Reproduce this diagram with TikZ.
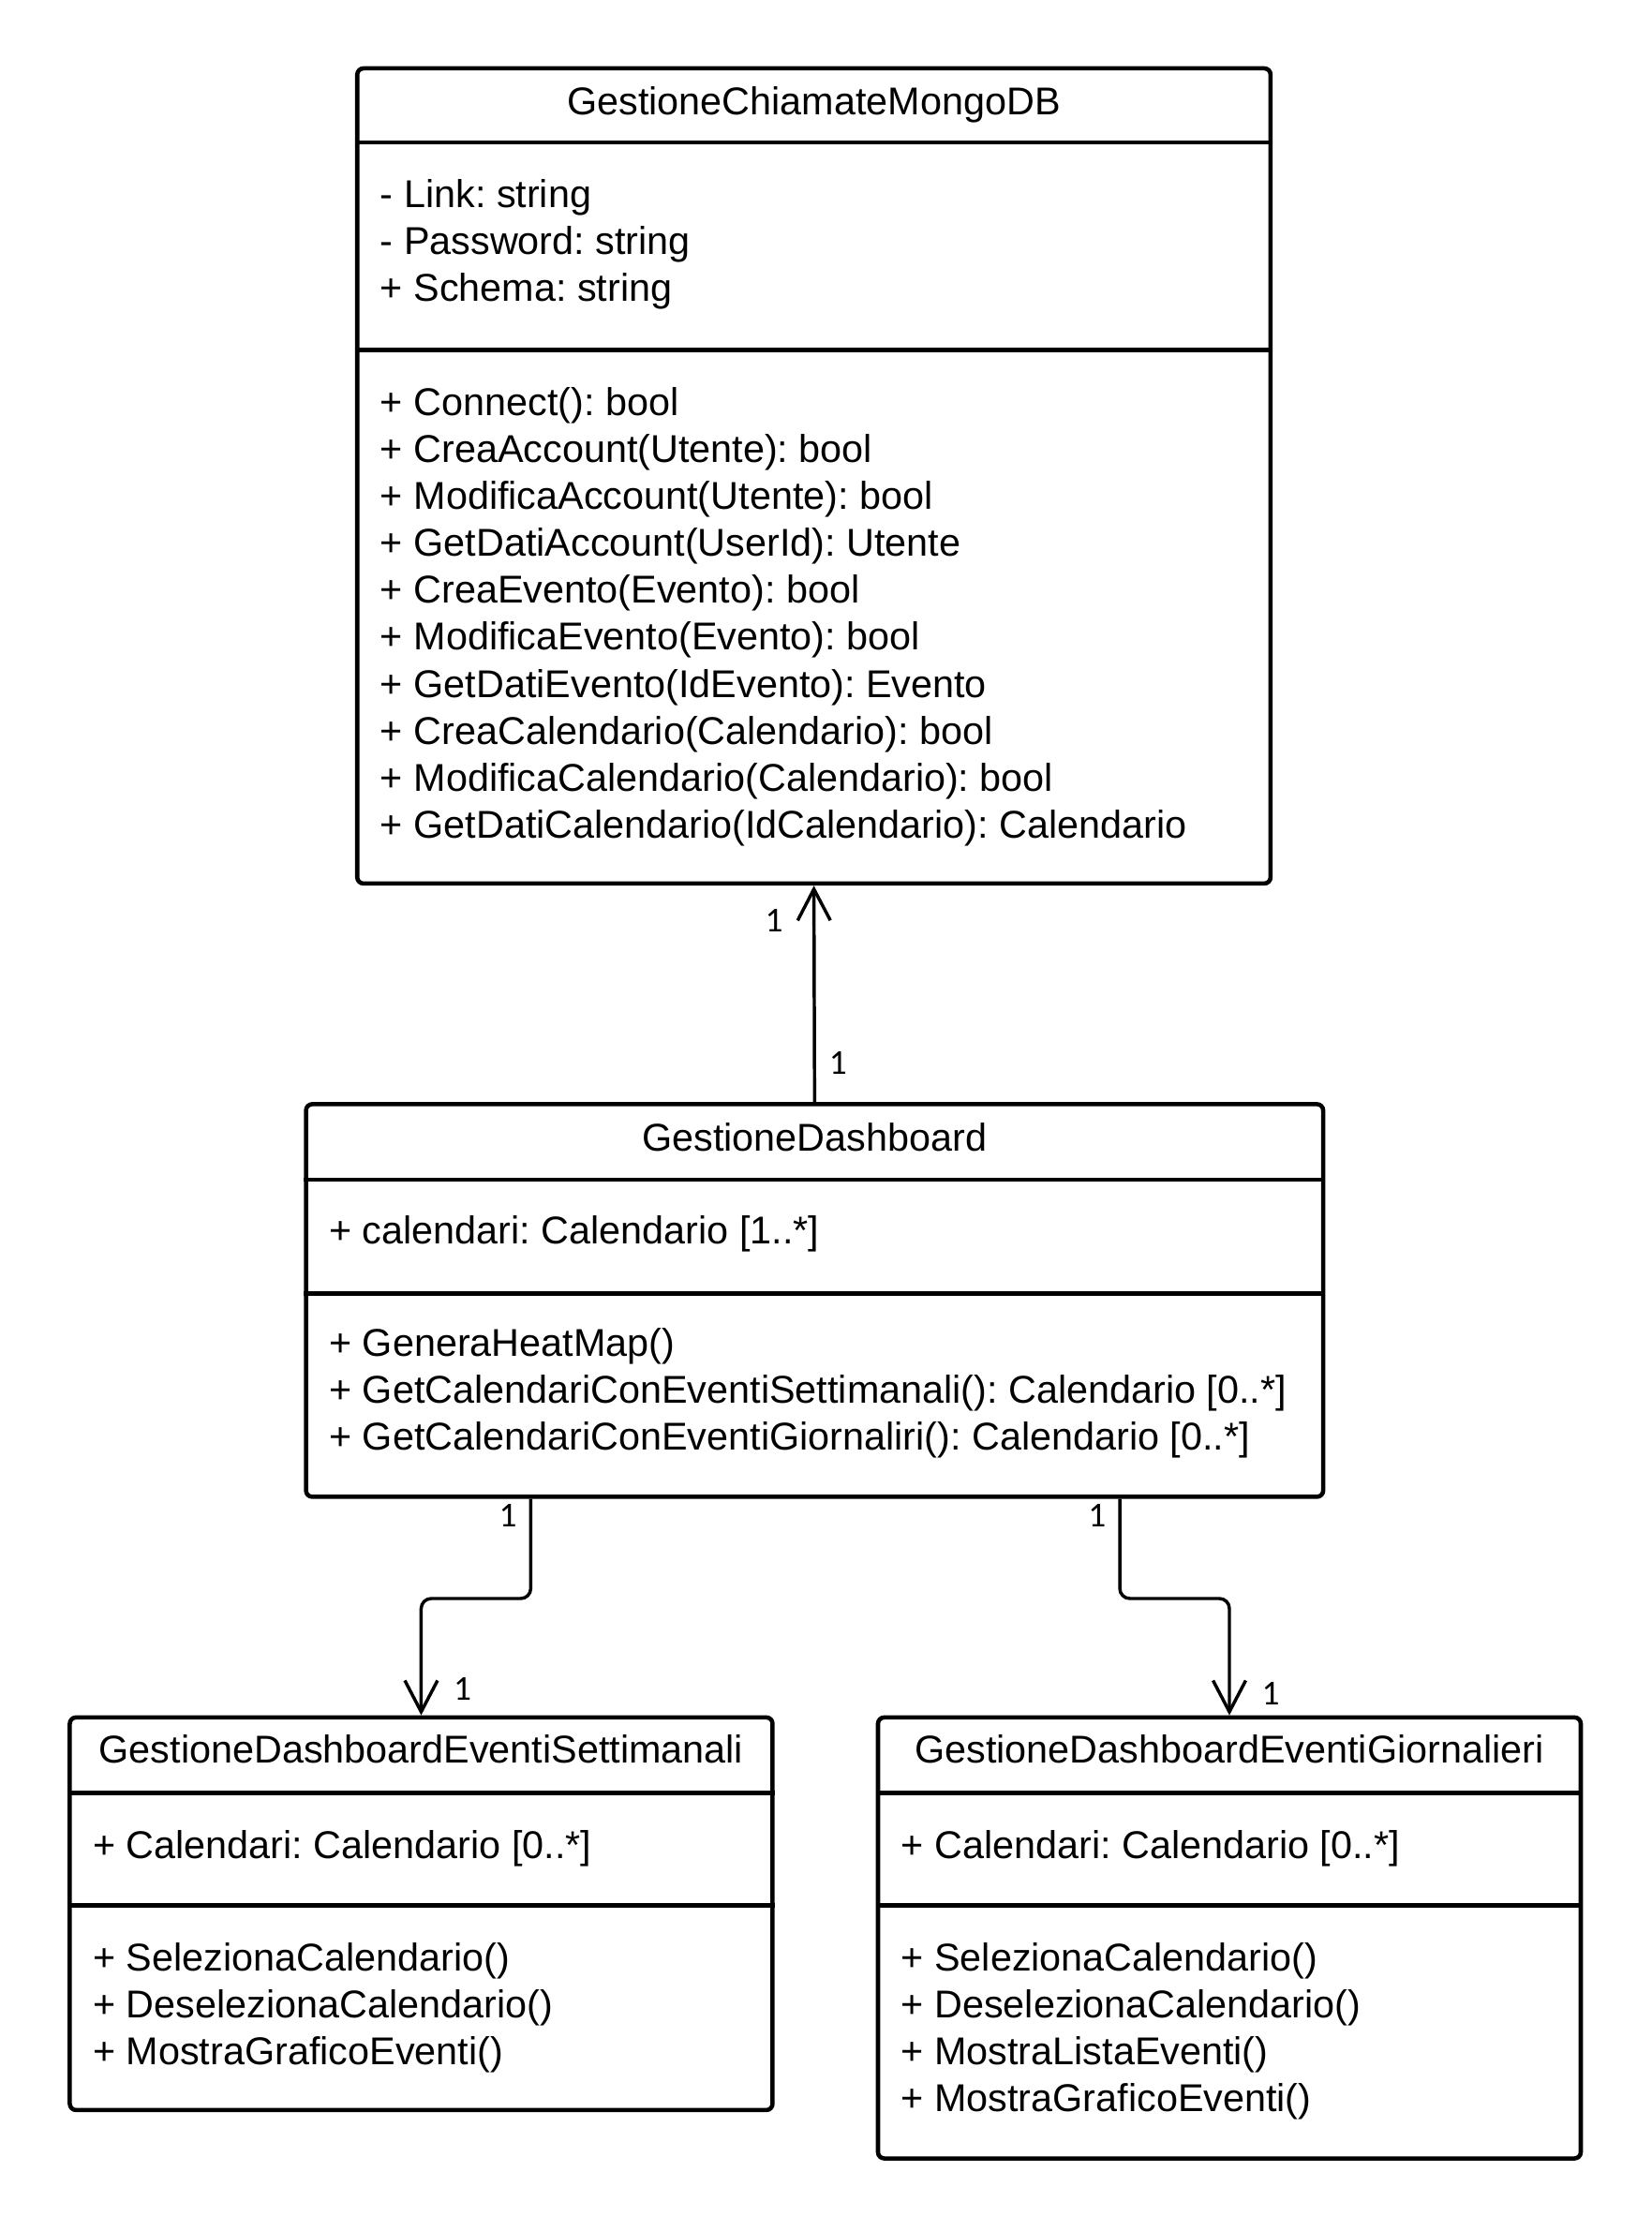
\documentclass[tikz,border=0pt]{standalone}
\usepackage{fontspec}
\setmainfont{Liberation Sans}
\newfontfamily\multfont{Carlito}
\frenchspacing
\usetikzlibrary{arrows.meta, positioning, calc}
\tikzset{
  classbox/.style={rectangle, draw, line width=1.7pt, rounded corners=2.5pt, inner sep=0pt},
  sepline/.style={line width=1.7pt},
  classname/.style={font=\fontsize{15.5}{18.8}\selectfont, anchor=base, inner sep=0pt},
  member/.style={font=\fontsize{15.5}{18.8}\selectfont, anchor=base west, inner sep=0pt},
  assoc/.style={line width=1.3pt, rounded corners=4pt,
    -{Straight Barb[length=0.44cm, width=0.46cm, line width=1.3pt]}},
  mult/.style={font=\multfont\fontsize{14}{16}\selectfont, inner sep=0pt}
}

\begin{document}
\begin{tikzpicture}[x=0.02cm, y=-0.02cm]
  \useasboundingbox (0,0) rectangle (1161,1568);

  % Class boxes
  \node[classbox, minimum width=12.84cm, minimum height=11.46cm] (db) at (572,334.5) {};
  \node[classbox, minimum width=14.3cm, minimum height=5.52cm] (dash) at (572.5,914) {};
  \node[classbox, minimum width=9.88cm, minimum height=5.52cm] (sett) at (296,1345) {};
  \node[classbox, minimum width=9.88cm, minimum height=6.2cm] (giorn) at (864,1362) {};

  % Compartment lines
  \draw[sepline] (db.west |- 0,100) -- (db.east |- 0,100);
  \draw[sepline] (db.west |- 0,246) -- (db.east |- 0,246);
  \draw[sepline] (dash.west |- 0,829) -- (dash.east |- 0,829);
  \draw[sepline] (dash.west |- 0,909) -- (dash.east |- 0,909);
  \draw[sepline] (sett.west |- 0,1260) -- (sett.east |- 0,1260);
  \draw[sepline] (sett.west |- 0,1339) -- (sett.east |- 0,1339);
  \draw[sepline] (giorn.west |- 0,1260) -- (giorn.east |- 0,1260);
  \draw[sepline] (giorn.west |- 0,1339) -- (giorn.east |- 0,1339);

  % GestioneChiamateMongoDB
  \node[classname] (db-name) at (572,81) {GestioneChiamateMongoDB};
  \foreach \txt [count=\i from 0] in {{- Link: string}, {- Password: string}, {+ Schema: string}}
    \node[member] (db-attr-\i) at (267,146+33*\i) {\txt};
  \foreach \txt [count=\i from 0] in {
      {+ Connect(): bool},
      {+ CreaAccount(Utente): bool},
      {+ ModificaAccount(Utente): bool},
      {+ GetDatiAccount(UserId): Utente},
      {+ CreaEvento(Evento): bool},
      {+ ModificaEvento(Evento): bool},
      {+ GetDatiEvento(IdEvento): Evento},
      {+ CreaCalendario(Calendario): bool},
      {+ ModificaCalendario(Calendario): bool},
      {+ GetDatiCalendario(IdCalendario): Calendario}}
    \node[member] (db-op-\i) at (267,292+33*\i) {\txt};

  % GestioneDashboard
  \node[classname] (dash-name) at (572.5,809) {GestioneDashboard};
  \node[member] (dash-attr) at (231,874) {+ calendari: Calendario [1..*]};
  \foreach \txt [count=\i from 0] in {
      {+ GeneraHeatMap()},
      {+ GetCalendariConEventiSettimanali(): Calendario [0..*]},
      {+ GetCalendariConEventiGiornaliri(): Calendario [0..*]}}
    \node[member] (dash-op-\i) at (231,953+33*\i) {\txt};

  % GestioneDashboardEventiSettimanali
  \node[classname] (sett-name) at (296,1239) {GestioneDashboardEventiSettimanali};
  \node[member] (sett-attr) at (65,1306) {+ Calendari: Calendario [0..*]};
  \foreach \txt [count=\i from 0] in {
      {+ SelezionaCalendario()},
      {+ DeselezionaCalendario()},
      {+ MostraGraficoEventi()}}
    \node[member] (sett-op-\i) at (65,1385+33*\i) {\txt};

  % GestioneDashboardEventiGiornalieri
  \node[classname] (giorn-name) at (864,1239) {GestioneDashboardEventiGiornalieri};
  \node[member] (giorn-attr) at (633,1306) {+ Calendari: Calendario [0..*]};
  \foreach \txt [count=\i from 0] in {
      {+ SelezionaCalendario()},
      {+ DeselezionaCalendario()},
      {+ MostraListaEventi()},
      {+ MostraGraficoEventi()}}
    \node[member] (giorn-op-\i) at (633,1385+33*\i) {\txt};

  % Associations
  \draw[assoc] (dash.north) -- (db.south);
  \draw[assoc] ($(dash.south)+(-199.5,0)$) -- ++(0,70) -| (sett.north);
  \draw[assoc] ($(dash.south)+(214.5,0)$) -- ++(0,70) -| (giorn.north);

  % Multiplicities
  \node[mult] (m-db) at (544,647) {1};
  \node[mult] (m-dash-up) at (589,747) {1};
  \node[mult] (m-dash-l) at (357,1065) {1};
  \node[mult] (m-sett) at (325,1187) {1};
  \node[mult] (m-dash-r) at (771,1065) {1};
  \node[mult] (m-giorn) at (893,1190) {1};
\end{tikzpicture}
\end{document}
